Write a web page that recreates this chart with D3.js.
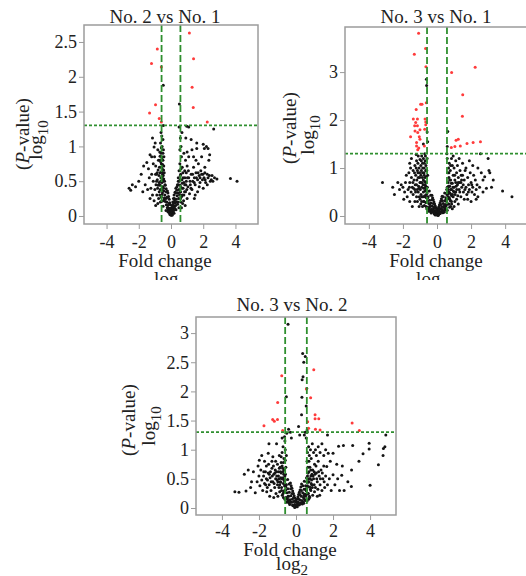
<!DOCTYPE html>
<html>
<head>
<meta charset="utf-8">
<script src="https://cdn.jsdelivr.net/npm/d3@7"></script>
<style>
body { margin: 0; background: #fff; }
svg text { font-family: "Liberation Serif", "Times New Roman", serif; }
</style>
</head>
<body>
<div id="chart"></div>
<script>
// thresholds: log2(1.5) and -log10(0.05)
const foldCut = 0.585;
const pCut = 1.301;

const xTicks = [-4, -2, 0, 2, 4];
const xDomain = [-5.4, 5.4];

const titles = ["No. 2 vs No. 1", "No. 3 vs No. 1", "No. 3 vs No. 2"];

// No. 2 vs No. 1
const p1Ticks = [0, 0.5, 1, 1.5, 2, 2.5];
const p1Red = [[1.14,2.63],[-0.85,2.40],[1.40,2.26],[-1.21,2.19],[-0.6,2.14],[1.31,1.85],[-0.96,1.60],[1.38,1.56],[-1.33,1.48],[-0.73,1.40],[-0.6,1.35],[2.25,1.35]];
const p1Black = [
  [-0.48,1.88],[0.52,1.61],
  [0,0.01],[0.03,0.03],[-0.03,0.04],[0.06,0.02],[-0.06,0.02],[0.09,0.06],[-0.09,0.07],[0.12,0.04],[-0.12,0.05],[0.14,0.1],[-0.14,0.11],[0.17,0.08],[-0.17,0.09],[0.2,0.14],[-0.2,0.15],[0.23,0.11],[-0.23,0.12],[0.26,0.19],[-0.26,0.2],[0.29,0.15],[-0.29,0.16],[0.32,0.24],[-0.32,0.25],[0.35,0.2],[-0.35,0.21],[0.38,0.29],[-0.38,0.3],[0.41,0.17],[-0.41,0.26],[0.44,0.33],[-0.44,0.36],[0.47,0.25],[-0.47,0.22],[0.5,0.38],[-0.5,0.42],[0.53,0.3],[-0.53,0.33],[0.56,0.44],[-0.56,0.48],[0.6,0.35],[-0.6,0.27],[0.63,0.41],[-0.63,0.55],[0.66,0.28],[-0.66,0.38],[0.7,0.47],[-0.7,0.45],[0.04,0.12],[-0.04,0.16],[0.08,0.15],[-0.08,0.19],[0.11,0.2],[-0.11,0.24],[0.15,0.25],[-0.15,0.28],[0.19,0.3],[-0.19,0.33],[0.22,0.22],[-0.22,0.36],[0.25,0.34],[-0.25,0.27],[0.3,0.4],[-0.3,0.39],[0.36,0.37],[-0.36,0.44],[0.4,0.45],[-0.4,0.5],[0.02,0.07],[-0.01,0.1],[0.1,0.13],[-0.16,0.06],
  [0.05,0.09],[-0.05,0.11],[0.13,0.17],[-0.13,0.18],[0.21,0.25],[-0.21,0.27],[0.29,0.33],[-0.29,0.35],[0.37,0.42],[-0.37,0.45],[0.45,0.5],[-0.45,0.53],[0.07,0.01],[-0.07,0.03],[0.19,0.04],[-0.19,0.06],[0.31,0.09],[-0.31,0.08],[0.43,0.2],[-0.43,0.23],[0.55,0.34],[-0.55,0.37],[0.59,0.25],[-0.59,0.21],[0.67,0.4],[-0.67,0.44],[0.49,0.12],[-0.49,0.14],[0.57,0.52],[-0.52,0.6],
  [-0.48,0.58],[-0.52,0.62],[-0.55,0.68],[-0.45,0.72],[-0.6,0.75],[-0.5,0.8],[-0.58,0.85],[-0.62,0.9],[-0.47,0.95],[-0.55,1.0],[-0.65,1.05],[-0.5,1.1],[-0.57,1.15],[-0.62,1.2],[-0.53,0.52],[-0.68,0.62],[-0.72,0.7],[-0.75,0.58],[-0.8,0.66],[-0.78,0.8],[-0.85,0.52],[-0.9,0.6],[-0.7,0.92],[-0.82,0.95],[-0.95,0.72],[-0.64,0.5],[-0.42,0.62],[-0.44,0.85],[-0.56,0.3],[-0.66,0.2],[-0.73,0.35],[-0.77,0.25],[-0.83,0.4],[-0.88,0.3],[-0.93,0.45],[-1.0,0.38],[-0.48,1.3],
  [-0.46,0.4],[-0.5,0.5],[-0.54,0.56],[-0.58,0.64],[-0.46,0.66],[-0.6,0.7],[-0.52,0.74],[-0.64,0.78],[-0.56,0.82],[-0.68,0.86],[-0.5,0.9],[-0.6,0.98],[-0.7,0.8],[-0.74,0.48],[-0.8,0.44],[-0.86,0.62],[-0.9,0.5],[-0.96,0.6],[-0.7,0.3],[-0.82,0.18],
  [-1.05,0.99],[-1.2,0.85],[-1.3,0.88],[-1.1,0.75],[-1.5,0.77],[-1.7,0.72],[-1.85,0.6],[-2.0,0.5],[-2.2,0.42],[-2.4,0.45],[-2.5,0.37],[-2.6,0.4],[-1.2,0.6],[-1.35,0.55],[-1.1,0.5],[-1.6,0.45],[-1.45,0.38],[-1.25,0.4],[-1.15,0.3],[-1.05,0.22],[-1.3,0.25],[-1.75,0.35],[-0.95,0.15],[-1.4,0.68],[-1.02,0.85],[-0.98,1.05],[-1.15,1.12],
  [0.45,0.55],[0.5,0.65],[0.55,0.75],[0.6,0.6],[0.65,0.85],[0.7,0.7],[0.75,0.55],[0.8,0.9],[0.85,0.65],[0.9,0.8],[0.95,0.5],[1.0,0.72],[0.62,1.0],[0.58,1.12],[0.68,1.2],[0.55,0.95],[0.75,0.4],[0.8,0.3],[0.85,0.45],[0.9,0.35],[0.95,0.62],[1.05,0.42],[1.1,0.55],[1.15,0.32],[1.0,0.25],[0.72,0.18],[0.78,0.22],[0.65,0.12],[0.88,0.15],[1.2,0.45],[1.25,0.6],[1.3,0.38],[0.92,1.12],[0.98,1.29],[1.1,1.28],[1.0,0.92],[1.1,0.85],[0.5,1.28],
  [0.46,0.45],[0.52,0.5],[0.58,0.58],[0.62,0.68],[0.68,0.52],[0.74,0.62],[0.8,0.48],[0.86,0.55],[0.92,0.45],[0.98,0.38],[1.02,0.55],[1.08,0.65],[1.18,0.5],[1.24,0.4],[1.34,0.6],[1.44,0.48],[1.58,0.55],[1.68,0.62],[1.8,0.55],[1.98,0.6],[2.12,0.52],[2.38,0.58],[0.7,0.3],[0.6,0.2],[0.84,0.35],
  [1.35,0.5],[1.4,0.7],[1.45,0.55],[1.5,0.45],[1.55,0.62],[1.6,0.97],[1.65,0.52],[1.7,0.75],[1.75,0.58],[1.8,0.48],[1.85,0.65],[1.9,0.6],[1.95,0.52],[2.0,1.03],[2.05,0.55],[2.07,0.97],[2.1,0.7],[2.15,0.48],[2.2,1.0],[2.25,0.6],[2.3,0.97],[2.3,0.55],[2.35,0.8],[2.4,0.88],[2.44,0.5],[2.5,0.52],[2.55,0.58],[2.6,0.5],[2.65,1.25],[2.7,0.55],[2.85,0.53],[3.69,0.54],[4.1,0.5],[1.4,0.85],[1.5,0.3],[1.65,0.35],[1.3,0.95],[1.55,0.8],[1.75,0.42],[2.0,0.4],[1.9,0.85],[1.25,1.1],[1.6,1.05],[2.1,0.62],[2.25,0.45],[1.45,0.25]
];

// No. 3 vs No. 1
const p2Ticks = [0, 1, 2, 3];
const p2Red = [[-1.08,3.81],[-1.33,3.37],[-0.67,3.49],[-0.65,3.11],[0.86,2.99],[2.24,3.10],[1.51,2.53],[1.49,2.08],[-1.22,2.22],[-0.96,2.33],[-0.88,2.33],[-0.63,2.36],[-1.39,2.02],[-1.15,2.02],[-0.7,2.02],[-0.66,1.96],[-1.25,1.95],[-1.31,1.88],[-1.15,1.88],[-1.29,1.77],[-1.13,1.74],[-1.0,1.8],[-0.72,1.81],[-0.66,1.9],[-1.55,1.65],[-1.04,1.65],[-1.0,1.6],[-1.2,1.53],[-1.2,1.46],[-1.13,1.38],[-0.74,1.46],[-1.07,1.42],[1.12,1.58],[1.25,1.6],[0.84,1.43],[1.05,1.45],[1.37,1.46],[1.76,1.51],[2.12,1.53],[2.55,1.55]];
const p2Black = [
  [0,0.02],[0.04,0.04],[-0.04,0.05],[0.08,0.07],[-0.08,0.06],[0.12,0.1],[-0.12,0.11],[0.16,0.05],[-0.16,0.04],[0.2,0.14],[-0.2,0.15],[0.24,0.09],[-0.24,0.1],[0.28,0.2],[-0.28,0.21],[0.32,0.13],[-0.32,0.14],[0.36,0.26],[-0.36,0.27],[0.4,0.18],[-0.4,0.2],[0.44,0.32],[-0.44,0.33],[0.48,0.24],[-0.48,0.26],[0.52,0.38],[-0.52,0.4],[0.56,0.3],[-0.56,0.31],[0.6,0.12],[-0.6,0.15],[0.02,0.1],[-0.02,0.13],[0.06,0.15],[-0.06,0.17],[0.1,0.19],[-0.1,0.21],[0.14,0.23],[-0.14,0.25],[0.18,0.27],[-0.18,0.29],[0.22,0.31],[-0.22,0.34],[0.26,0.36],[-0.26,0.38],[0.3,0.41],[-0.3,0.43],[0.34,0.07],[-0.34,0.06],[0.38,0.1],[-0.38,0.09],[0.42,0.08],[-0.42,0.12],[0.46,0.15],[-0.46,0.16],[0.5,0.2],[-0.5,0.1],[0.54,0.22],[-0.54,0.18],[0.58,0.45],[-0.58,0.48],[0.62,0.36],[-0.62,0.38],[0.66,0.25],[-0.66,0.28],[0.7,0.5],[-0.7,0.52],[0.74,0.18],[-0.74,0.22],[0.78,0.32],[-0.78,0.3],[0.1,0.03],[-0.1,0.02],[0.14,0.15],[-0.18,0.18],[0.26,0.15],[-0.3,0.12],
  [0.05,0.09],[-0.05,0.11],[0.13,0.17],[-0.13,0.19],[0.21,0.24],[-0.21,0.26],[0.29,0.32],[-0.29,0.34],[0.37,0.4],[-0.37,0.43],[0.45,0.48],[-0.45,0.52],[0.07,0.01],[-0.07,0.03],[0.19,0.05],[-0.19,0.07],[0.31,0.1],[-0.31,0.09],[0.43,0.21],[-0.43,0.24],[0.55,0.35],[-0.55,0.38],[0.64,0.46],[-0.64,0.2],[0.68,0.62],[-0.68,0.64],[0.72,0.38],[-0.72,0.42],[0.82,0.45],[-0.82,0.4],[0.49,0.12],[-0.49,0.14],[0.57,0.55],[-0.57,0.6],[0.86,0.25],[-0.9,0.3],
  [-0.6,0.6],[-0.65,0.7],[-0.7,0.8],[-0.75,0.65],[-0.8,0.75],[-0.85,0.9],[-0.9,0.6],[-0.95,0.85],[-1.0,0.7],[-1.05,1.0],[-1.1,0.8],[-1.15,0.95],[-1.2,0.65],[-0.55,0.85],[-0.6,0.95],[-0.65,1.05],[-0.7,1.15],[-0.75,1.0],[-0.8,1.2],[-0.85,1.1],[-0.9,1.25],[-0.95,1.05],[-1.0,1.18],[-1.1,1.25],[-1.2,1.15],[-1.3,1.05],[-1.25,0.85],[-1.35,0.75],[-1.4,0.95],[-1.45,0.6],[-1.5,0.8],[-1.55,1.0],[-1.6,0.7],[-1.7,0.55],[-1.8,0.85],[-1.9,0.5],[-2.0,0.6],[-2.1,0.65],[-2.3,0.7],[-3.2,0.7],[-2.5,0.45],[-1.75,0.4],[-1.6,0.3],[-1.4,0.45],[-1.3,0.55],[-1.2,0.4],[-1.1,0.5],[-1.0,0.35],[-0.9,0.4],[-0.8,0.5],[-0.85,0.2],[-0.95,0.25],[-1.05,0.2],[-1.15,0.3],[-1.3,0.3],[-0.7,0.4],[-0.62,0.82],[-0.78,0.58],[-0.88,0.7],[-0.98,0.55],[-1.08,0.62],[-1.18,0.75],[-1.28,0.65],[-1.38,0.58],[-0.68,1.25],[-0.72,1.3],[-0.58,1.2],[-0.92,1.15],[-1.02,0.9],[-1.12,1.1],[-1.22,1.28],[-1.5,1.2],[-1.6,1.1],[-0.55,1.55],[-0.58,1.75],[-0.61,2.72],[-0.62,2.85],[-0.8,1.5],[-1.65,0.9],[-1.85,0.7],[-2.2,0.55],[-2.6,0.6],[-1.95,0.35],[-1.45,0.2],[-0.75,0.85],[-0.65,0.55],
  [-0.62,0.45],[-0.68,0.6],[-0.72,0.72],[-0.76,0.9],[-0.82,0.65],[-0.86,0.8],[-0.92,0.95],[-0.96,0.7],[-1.02,0.8],[-1.06,0.58],[-1.12,0.9],[-1.16,0.55],[-1.22,1.0],[-1.26,0.5],[-1.32,0.9],[-1.42,0.7],[-1.52,0.5],[-1.62,0.6],[-0.66,0.95],[-0.74,1.1],[-0.84,1.0],[-0.94,0.45],[-1.04,0.4],[-0.76,0.3],
  [0.6,0.6],[0.65,0.7],[0.7,0.8],[0.75,0.62],[0.8,0.75],[0.85,0.55],[0.9,0.68],[0.95,0.85],[1.0,0.6],[1.05,0.75],[1.1,0.5],[1.15,0.9],[1.2,0.65],[1.25,0.8],[1.3,0.55],[1.35,0.95],[1.4,0.7],[1.45,0.6],[1.5,0.85],[1.55,0.5],[1.6,0.75],[1.65,0.95],[1.7,0.6],[1.75,0.45],[1.8,0.8],[1.85,0.65],[1.9,0.55],[1.95,0.9],[2.0,0.7],[2.05,0.5],[2.1,0.6],[2.15,0.85],[2.2,0.45],[2.25,0.75],[2.3,0.55],[2.35,0.65],[2.4,1.0],[2.5,0.6],[2.55,1.3],[2.6,0.9],[2.7,0.75],[2.8,0.82],[2.9,0.58],[3.0,1.2],[3.05,0.95],[3.1,0.9],[3.3,0.75],[3.85,0.52],[4.4,0.4],[0.62,0.9],[0.68,1.0],[0.72,1.1],[0.78,0.95],[0.85,1.2],[0.9,1.05],[0.95,1.25],[1.0,1.0],[1.1,1.15],[1.2,1.05],[1.3,1.2],[1.5,1.1],[1.7,1.0],[1.9,1.15],[2.1,1.05],[0.6,1.45],[0.63,1.76],[0.58,1.3],[0.65,0.4],[0.75,0.35],[0.85,0.3],[0.95,0.4],[1.05,0.3],[1.15,0.35],[1.25,0.25],[1.4,0.4],[1.6,0.35],[0.8,0.2],[0.9,0.15],[1.0,0.2],[0.7,0.25],[1.8,0.35],[2.0,0.3],[2.4,0.4],[0.6,1.2],[0.66,0.55],[0.76,0.48],[0.86,0.42],[0.96,0.52],[1.06,0.45],[1.12,0.62],[1.22,0.42],[1.32,0.7],[1.42,0.85],[2.7,0.5],[3.2,0.6],[2.3,0.35],
  [0.64,0.5],[0.7,0.62],[0.74,0.75],[0.8,0.55],[0.84,0.68],[0.9,0.45],[0.94,0.6],[1.0,0.5],[1.04,0.85],[1.1,0.7],[1.16,0.55],[1.24,0.7],[1.34,0.5],[1.44,0.75],[1.54,0.65],[1.64,0.55],[1.84,0.5],[2.04,0.65],[0.7,0.9],[0.8,1.05]
];

// No. 3 vs No. 2
const p3Ticks = [0, 0.5, 1, 1.5, 2, 2.5, 3];
const p3Red = [[-0.77,2.27],[0.96,2.37],[0.56,2.04],[0.79,1.89],[-0.99,1.81],[1.03,1.6],[1.23,1.53],[1.03,1.53],[-1.26,1.52],[-1.17,1.49],[-1.0,1.52],[-1.73,1.41],[0.63,1.48],[0.68,1.37],[1.05,1.35],[1.3,1.34],[3.03,1.46],[3.42,1.33],[-0.72,1.33]];
const p3Black = [
  [-0.43,3.15],[0.36,2.65],[0.5,2.6],[0.42,2.5],[0.33,2.2],[0.38,2.25],[0.58,2.05],[0.32,1.9],[-0.52,1.91],[0.55,1.75],[0.3,1.6],[0.14,1.4],[0.6,1.34],[-0.4,1.35],[-0.3,1.3],[-0.25,1.2],[0.2,1.25],
  [0,0.02],[0.04,0.04],[-0.04,0.05],[0.08,0.07],[-0.08,0.06],[0.12,0.1],[-0.12,0.11],[0.16,0.05],[-0.16,0.04],[0.2,0.14],[-0.2,0.15],[0.24,0.09],[-0.24,0.1],[0.28,0.2],[-0.28,0.21],[0.32,0.13],[-0.32,0.14],[0.36,0.26],[-0.36,0.27],[0.4,0.18],[-0.4,0.2],[0.44,0.32],[-0.44,0.33],[0.48,0.24],[-0.48,0.26],[0.52,0.38],[-0.52,0.4],[0.56,0.3],[-0.56,0.31],[0.6,0.12],[-0.6,0.15],[0.02,0.1],[-0.02,0.13],[0.06,0.15],[-0.06,0.17],[0.1,0.19],[-0.1,0.21],[0.14,0.23],[-0.14,0.25],[0.18,0.27],[-0.18,0.29],[0.22,0.31],[-0.22,0.34],[0.26,0.36],[-0.26,0.38],[0.3,0.41],[-0.3,0.43],[0.34,0.07],[-0.34,0.06],[0.38,0.1],[-0.38,0.09],[0.42,0.08],[-0.42,0.12],[0.46,0.15],[-0.46,0.16],[0.5,0.2],[-0.5,0.1],[0.54,0.22],[-0.54,0.18],[0.58,0.45],[-0.58,0.48],[0.62,0.36],[-0.62,0.38],[0.66,0.25],[-0.66,0.28],[0.7,0.5],[-0.7,0.52],[0.74,0.18],[-0.74,0.22],[0.78,0.32],[-0.78,0.3],
  [0.05,0.1],[-0.05,0.12],[0.13,0.16],[-0.13,0.18],[0.21,0.23],[-0.21,0.25],[0.29,0.3],[-0.29,0.33],[0.37,0.38],[-0.37,0.41],[0.45,0.46],[-0.45,0.49],[0.07,0.02],[-0.07,0.01],[0.19,0.06],[-0.19,0.05],[0.31,0.08],[-0.31,0.1],[0.43,0.22],[-0.43,0.2],[0.55,0.33],[-0.55,0.36],[0.64,0.44],[-0.64,0.47],[0.68,0.15],[-0.68,0.18],[0.82,0.42],[-0.82,0.44],[0.49,0.13],[-0.49,0.15],[0.57,0.52],[-0.57,0.58],[0.88,0.35],[-0.92,0.5],
  [-0.6,0.55],[-0.65,0.65],[-0.7,0.5],[-0.75,0.72],[-0.8,0.6],[-0.85,0.45],[-0.9,0.68],[-0.95,0.55],[-1.0,0.4],[-1.05,0.62],[-1.1,0.5],[-1.15,0.35],[-1.2,0.58],[-1.25,0.45],[-1.3,0.68],[-1.35,0.3],[-1.4,0.52],[-1.45,0.4],[-1.5,0.6],[-1.55,0.35],[-1.6,0.5],[-1.65,0.62],[-1.7,0.42],[-1.75,0.55],[-1.8,0.3],[-1.85,0.48],[-1.9,0.65],[-1.95,0.38],[-2.0,0.55],[-2.1,0.45],[-2.2,0.26],[-2.3,0.62],[-2.4,0.45],[-2.58,0.65],[-2.7,0.29],[-2.79,0.58],[-3.08,0.27],[-3.3,0.28],[-1.98,0.82],[-1.46,1.1],[-1.05,1.1],[-1.5,0.94],[-1.25,0.88],[-1.1,0.8],[-0.9,0.9],[-0.75,0.95],[-0.65,0.85],[-0.7,1.05],[-0.6,1.15],[-0.8,0.78],[-1.0,0.75],[-1.3,0.8],[-1.7,0.8],[-1.6,0.72],[-0.55,0.7],[-0.52,0.9],[-0.58,1.0],[-0.62,1.22],[-0.5,1.28],[-0.55,0.4],[-0.62,0.3],[-0.7,0.25],[-0.78,0.35],[-0.88,0.28],[-0.98,0.2],[-1.08,0.25],[-1.2,0.18],[-0.92,0.35],[-1.02,0.48],[-1.12,0.65],[-1.22,0.72],[-1.38,0.62],[-1.48,0.75],[-0.68,0.42],[-0.82,0.52],[-0.72,0.62],[-0.86,0.7],[-1.58,0.28],[-1.42,0.2],[-2.45,0.35],[-2.05,0.72],[-1.85,0.9],[-0.75,1.2],
  [-0.62,0.48],[-0.66,0.58],[-0.72,0.68],[-0.78,0.5],[-0.84,0.62],[-0.88,0.4],[-0.94,0.62],[-0.98,0.45],[-1.04,0.55],[-1.14,0.6],[-1.18,0.42],[-1.28,0.55],[-1.34,0.45],[-1.44,0.58],[-1.54,0.48],[-1.64,0.4],[-1.74,0.62],[-0.68,0.78],[-0.58,0.82],[-0.8,0.88],
  [0.6,0.5],[0.65,0.6],[0.7,0.45],[0.75,0.7],[0.8,0.55],[0.85,0.4],[0.9,0.65],[0.95,0.5],[1.0,0.75],[1.05,0.35],[1.1,0.6],[1.15,0.45],[1.2,0.8],[1.25,0.55],[1.3,0.4],[1.35,0.65],[1.4,0.3],[1.45,0.5],[1.5,0.72],[1.55,0.35],[1.6,0.55],[1.66,0.71],[1.7,0.4],[1.74,0.94],[1.8,0.5],[1.9,0.3],[2.0,0.57],[2.0,0.94],[2.1,0.4],[2.2,0.75],[2.3,1.06],[2.35,0.3],[2.47,0.56],[2.5,0.72],[2.56,1.07],[2.8,0.45],[2.99,0.37],[3.0,0.65],[3.06,1.07],[3.62,0.93],[3.95,1.01],[3.95,1.11],[4.0,0.39],[4.45,0.74],[4.7,0.9],[4.72,1.02],[4.8,1.05],[4.85,1.25],[0.6,0.8],[0.62,0.95],[0.68,1.05],[0.72,0.9],[0.78,1.0],[0.82,0.85],[0.88,1.1],[0.95,0.95],[1.05,1.0],[1.1,0.9],[1.2,1.05],[1.3,0.95],[1.4,1.1],[1.5,0.9],[1.6,1.0],[1.7,1.25],[0.55,1.2],[0.5,1.3],[0.6,1.3],[0.45,1.25],[0.55,0.3],[0.65,0.25],[0.72,0.2],[0.8,0.3],[0.9,0.22],[1.0,0.28],[1.15,0.2],[0.62,0.38],[0.74,0.36],[0.86,0.58],[0.98,0.62],[1.08,0.72],[1.18,0.32],[1.28,0.22],[2.6,0.3],[2.25,0.5],[1.85,0.8],[3.4,0.8],
  [0.62,0.55],[0.66,0.45],[0.7,0.62],[0.76,0.5],[0.8,0.65],[0.84,0.48],[0.92,0.55],[0.98,0.4],[1.02,0.58],[1.12,0.5],[1.22,0.62],[1.32,0.5],[1.42,0.6],[1.52,0.45],[0.7,0.8],[0.64,0.7]
];

const svg = d3.select("#chart")
    .append("svg")
    .attr("width", 526)
    .attr("height", 576);

svg.append("clipPath")
    .attr("id", "topRow")
    .append("rect")
    .attr("width", 526)
    .attr("height", 280);

function drawVolcano(cfg) {
    const root = svg.append("g");
    if (cfg.clip) root.attr("clip-path", "url(#topRow)");

    const x = d3.scaleLinear().domain(xDomain).range([cfg.left, cfg.right]);
    const y = d3.scaleLinear().domain(cfg.yDomain).range([cfg.bottom, cfg.top]);

    root.append("g")
        .selectAll("circle")
        .data(cfg.black)
        .join("circle")
        .attr("cx", d => x(d[0]))
        .attr("cy", d => y(d[1]))
        .attr("r", 1.5)
        .attr("fill", "#151515");

    root.append("g")
        .selectAll("circle")
        .data(cfg.red)
        .join("circle")
        .attr("cx", d => x(d[0]))
        .attr("cy", d => y(d[1]))
        .attr("r", 1.5)
        .attr("fill", "#ff3b3b");

    // cut-off lines
    root.append("g")
        .selectAll("line")
        .data([-foldCut, foldCut])
        .join("line")
        .attr("x1", d => x(d)).attr("x2", d => x(d))
        .attr("y1", cfg.top).attr("y2", cfg.bottom)
        .attr("stroke", "#2f8f2f")
        .attr("stroke-width", 1.8)
        .attr("stroke-dasharray", "7,3");

    root.append("line")
        .attr("x1", cfg.left).attr("x2", cfg.right)
        .attr("y1", y(pCut)).attr("y2", y(pCut))
        .attr("stroke", "#2f8f2f")
        .attr("stroke-width", 1.8)
        .attr("stroke-dasharray", "3,2");

    root.append("rect")
        .attr("x", cfg.left).attr("y", cfg.top)
        .attr("width", cfg.right - cfg.left)
        .attr("height", cfg.bottom - cfg.top)
        .attr("fill", "none")
        .attr("stroke", "#9c9c9c")
        .attr("stroke-width", 1.5);

    const yAxis = root.append("g")
        .attr("transform", `translate(${cfg.left},0)`)
        .call(d3.axisLeft(y).tickValues(cfg.yTicks).tickSize(5).tickPadding(2).tickFormat(d => String(d)));
    yAxis.select(".domain").remove();

    const xAxis = root.append("g")
        .attr("transform", `translate(0,${cfg.bottom})`)
        .call(d3.axisBottom(x).tickValues(xTicks).tickSize(5).tickPadding(cfg.xPad).tickFormat(d => String(d)));
    xAxis.select(".domain").remove();

    root.selectAll(".tick line").attr("stroke", "#9c9c9c");
    root.selectAll(".tick text").attr("font-size", 18).attr("fill", "#222");

    root.append("text")
        .attr("x", cfg.titleX).attr("y", cfg.titleY)
        .attr("text-anchor", "middle")
        .attr("font-size", 19)
        .attr("fill", "#222")
        .text(cfg.title);

    root.append("text")
        .attr("x", cfg.foldX).attr("y", cfg.foldY)
        .attr("text-anchor", "middle")
        .attr("font-size", 19)
        .attr("fill", "#222")
        .text("Fold change");

    const log2 = root.append("text")
        .attr("x", cfg.log2X).attr("y", cfg.log2Y)
        .attr("text-anchor", "middle")
        .attr("font-size", 19)
        .attr("fill", "#222")
        .text("log");
    log2.append("tspan").attr("dy", 5).attr("font-size", 15).text("2");

    const pv = root.append("text")
        .attr("transform", `translate(${cfg.pvX},${cfg.pvY}) rotate(-90)`)
        .attr("text-anchor", "middle")
        .attr("font-size", 19)
        .attr("fill", "#222");
    pv.append("tspan").text("(");
    pv.append("tspan").attr("font-style", "italic").text("P");
    pv.append("tspan").text("-value)");

    const log10 = root.append("text")
        .attr("transform", `translate(${cfg.logX},${cfg.logY}) rotate(-90)`)
        .attr("text-anchor", "middle")
        .attr("font-size", 19)
        .attr("fill", "#222")
        .text("log");
    log10.append("tspan").attr("dy", 6).attr("font-size", 15).text("10");
}

drawVolcano({
    title: titles[0], red: p1Red, black: p1Black, yTicks: p1Ticks, clip: true,
    left: 84, right: 258, top: 25, bottom: 224, yDomain: [-0.115, 2.744], xPad: 6,
    titleX: 165, titleY: 23, foldX: 165, foldY: 267, log2X: 170, log2Y: 285,
    pvX: 29, pvY: 134, logX: 42, logY: 140
});

drawVolcano({
    title: titles[1], red: p2Red, black: p2Black, yTicks: p2Ticks, clip: true,
    left: 345, right: 529, top: 27, bottom: 224, yDomain: [-0.167, 3.94], xPad: 6,
    titleX: 436, titleY: 23, foldX: 436, foldY: 267, log2X: 432, log2Y: 285,
    pvX: 296, pvY: 128, logX: 314, logY: 135
});

drawVolcano({
    title: titles[2], red: p3Red, black: p3Black, yTicks: p3Ticks, clip: false,
    left: 196, right: 396, top: 317, bottom: 515, yDomain: [-0.12, 3.276], xPad: 4,
    titleX: 292, titleY: 311, foldX: 290, foldY: 556, log2X: 292, log2Y: 570,
    pvX: 135, pvY: 420, logX: 155, logY: 426
});
</script>
</body>
</html>
